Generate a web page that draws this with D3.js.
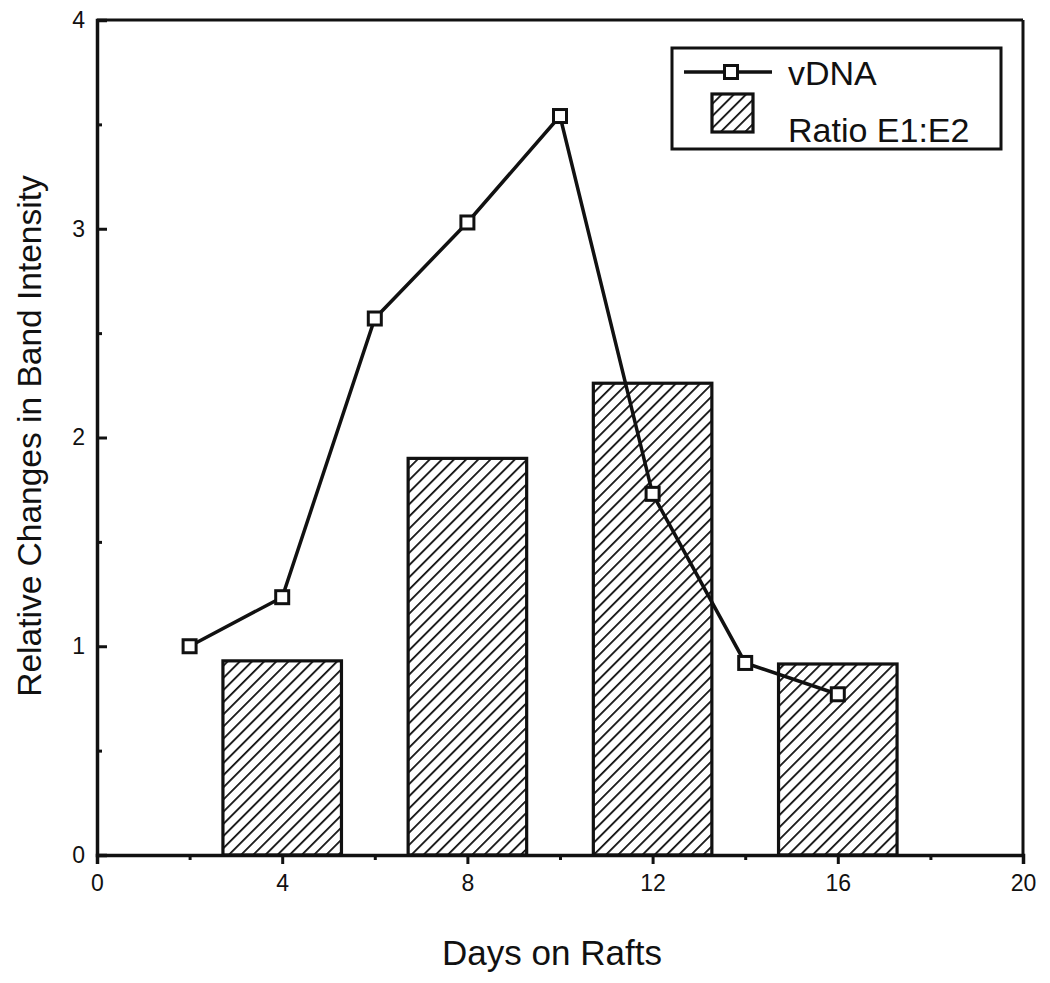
<!DOCTYPE html>
<html>
<head>
<meta charset="utf-8">
<script src="https://cdn.jsdelivr.net/npm/d3@7"></script>
<style>
  html, body { margin: 0; padding: 0; background: #fff; }
  svg { display: block; font-family: "Liberation Sans", Arial, Helvetica, sans-serif; }
</style>
</head>
<body>
<svg id="chart" width="1050" height="983"></svg>
<script>
// ---- data ----
const lineDays = [2, 4, 6, 8, 10, 12, 14, 16];
const vDNA = [1.0, 1.235, 2.57, 3.03, 3.54, 1.73, 0.92, 0.77];
const barDays = [4, 8, 12, 16];
const ratioE1E2 = [0.93, 1.90, 2.26, 0.915];
const xTicks = [0, 4, 8, 12, 16, 20];
const xMinorTicks = [2, 6, 10, 14, 18];
const yTicks = [0, 1, 2, 3, 4];
const yMinorTicks = [0.5, 1.5, 2.5, 3.5];
const seriesNames = ["vDNA", "Ratio E1:E2"];
const xTitle = "Days on Rafts";
const yTitle = "Relative Changes in Band Intensity";

// ---- layout ----
const svg = d3.select("#chart");
const X0 = 97, X1 = 1023, Y0 = 855, Y1 = 20;
const x = d3.scaleLinear().domain([0, 20]).range([X0, X1]);
const y = d3.scaleLinear().domain([0, 4]).range([Y0, Y1]);
const barHalf = 1.28; // in days
const ink = "#111";

// hatch pattern
const defs = svg.append("defs");
const pat = defs.append("pattern")
  .attr("id", "hatch")
  .attr("patternUnits", "userSpaceOnUse")
  .attr("width", 8.6).attr("height", 8.6)
  .attr("patternTransform", "rotate(45)");
pat.append("rect").attr("width", 8.6).attr("height", 8.6).attr("fill", "#fff");
pat.append("line").attr("x1", 0).attr("y1", 0).attr("x2", 0).attr("y2", 8.6)
  .attr("stroke", ink).attr("stroke-width", 3.6);

// bars
svg.append("g").selectAll("rect")
  .data(barDays.map((d, i) => ({ d, v: ratioE1E2[i] })))
  .join("rect")
  .attr("x", p => x(p.d - barHalf))
  .attr("width", p => x(p.d + barHalf) - x(p.d - barHalf))
  .attr("y", p => y(p.v))
  .attr("height", p => y(0) - y(p.v))
  .attr("fill", "url(#hatch)")
  .attr("stroke", ink)
  .attr("stroke-width", 3.2);

// frame: top and right borders
svg.append("line").attr("x1", x(0)).attr("x2", x(20)).attr("y1", y(4)).attr("y2", y(4))
  .attr("stroke", ink).attr("stroke-width", 3);
svg.append("line").attr("x1", x(20)).attr("x2", x(20)).attr("y1", y(4)).attr("y2", y(0))
  .attr("stroke", ink).attr("stroke-width", 3);

// x axis
const xAxis = d3.axisBottom(x).tickValues(xTicks).tickSize(9).tickPadding(11).tickFormat(d3.format("d"));
const gx = svg.append("g").attr("transform", `translate(0,${Y0})`).call(xAxis);
gx.select(".domain").attr("stroke", ink).attr("stroke-width", 3.5);
gx.selectAll(".tick line").attr("stroke", ink).attr("stroke-width", 3);
gx.selectAll(".tick text").attr("font-size", 23).attr("fill", ink)
  .attr("font-family", "'Liberation Sans', Arial, sans-serif");
const gxm = svg.append("g").attr("transform", `translate(0,${Y0})`)
  .call(d3.axisBottom(x).tickValues(xMinorTicks).tickSize(5).tickFormat(""));
gxm.select(".domain").remove();
gxm.selectAll(".tick line").attr("stroke", ink).attr("stroke-width", 3);

// y axis (ticks inside)
const yAxis = d3.axisLeft(y).tickValues(yTicks).tickSize(-10).tickPadding(12).tickFormat(d3.format("d"));
const gy = svg.append("g").attr("transform", `translate(${X0},0)`).call(yAxis);
gy.select(".domain").attr("stroke", ink).attr("stroke-width", 3.5);
gy.selectAll(".tick line").attr("stroke", ink).attr("stroke-width", 3);
gy.selectAll(".tick text").attr("font-size", 23).attr("fill", ink)
  .attr("font-family", "'Liberation Sans', Arial, sans-serif");
const gym = svg.append("g").attr("transform", `translate(${X0},0)`)
  .call(d3.axisLeft(y).tickValues(yMinorTicks).tickSize(-5).tickFormat(""));
gym.select(".domain").remove();
gym.selectAll(".tick line").attr("stroke", ink).attr("stroke-width", 3);

// vDNA line
const pts = lineDays.map((d, i) => [d, vDNA[i]]);
svg.append("path")
  .datum(pts)
  .attr("d", d3.line().x(p => x(p[0])).y(p => y(p[1])))
  .attr("fill", "none").attr("stroke", ink).attr("stroke-width", 3.5);
svg.append("g").selectAll("rect")
  .data(pts).join("rect")
  .attr("x", p => x(p[0]) - 6.5).attr("y", p => y(p[1]) - 6.5)
  .attr("width", 13).attr("height", 13)
  .attr("fill", "#fff").attr("stroke", ink).attr("stroke-width", 3);

// axis titles
svg.append("text").attr("x", 552).attr("y", 965).attr("text-anchor", "middle")
  .attr("font-size", 35).attr("fill", ink).text(xTitle);
svg.append("text").attr("transform", "translate(41,436) rotate(-90)")
  .attr("text-anchor", "middle").attr("font-size", 33.5).attr("fill", ink).text(yTitle);

// legend
const lg = svg.append("g");
lg.append("rect").attr("x", 672).attr("y", 48).attr("width", 329).attr("height", 101)
  .attr("fill", "#fff").attr("stroke", ink).attr("stroke-width", 3);
lg.append("line").attr("x1", 684).attr("x2", 772).attr("y1", 72).attr("y2", 72)
  .attr("stroke", ink).attr("stroke-width", 3.5);
lg.append("rect").attr("x", 724.5).attr("y", 65.5).attr("width", 13).attr("height", 13)
  .attr("fill", "#fff").attr("stroke", ink).attr("stroke-width", 3);
lg.append("rect").attr("x", 712).attr("y", 94).attr("width", 41).attr("height", 38)
  .attr("fill", "url(#hatch)").attr("stroke", ink).attr("stroke-width", 3.2);
lg.append("text").attr("x", 788).attr("y", 85).attr("font-size", 34).attr("fill", ink).text(seriesNames[0]);
lg.append("text").attr("x", 788).attr("y", 142).attr("font-size", 34).attr("fill", ink).text(seriesNames[1]);
</script>
</body>
</html>
